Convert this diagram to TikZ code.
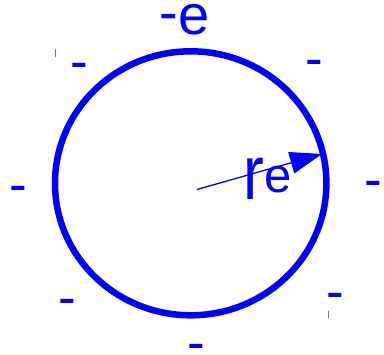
\documentclass[tikz,border=0pt]{standalone}
\usepackage{fontspec}
\setmainfont{Liberation Sans}
\usetikzlibrary{arrows.meta}
\definecolor{pureblue}{RGB}{0,0,255}
\tikzset{
  charge/.style={inner sep=0pt, outer sep=0pt, anchor=north, text=pureblue, font=\fontsize{53}{60}\selectfont},
  lbl/.style={inner sep=0pt, outer sep=0pt, anchor=base west, text=pureblue},
  tick/.style={draw=pureblue!60, line width=0.8pt}
}
\begin{document}
\begin{tikzpicture}[x=1pt,y=-1pt]
\useasboundingbox (0,0) rectangle (384,355);
% sphere
\draw[pureblue, line width=6.5pt] (190.7,183.3) ellipse [x radius=135.7pt, y radius=132pt];
% radius arrow
\coordinate (c) at (197,189.5);
\coordinate (t) at (322,154);
\draw[pureblue, line width=1.3pt, -{Triangle[length=32pt,width=22pt]}] (c) -- (t);
% labels
\node[lbl, font=\fontsize{56}{60}\selectfont] (q) at (159.8,34.3) {\raisebox{3pt}{-}e};
\node[lbl, font=\fontsize{62.5}{70}\selectfont] (r) at (243.6,200) {\scalebox{1}[1.23]{r}};
\node[lbl, font=\fontsize{49}{54}\selectfont] (e) at (264.5,193) {e};
% surrounding charges
\node[charge] (m1) at (79,63.5) {-};
\node[charge] (m2) at (314,60.8) {-};
\node[charge] (m3) at (18,186.8) {-};
\node[charge] (m4) at (373.5,181.8) {-};
\node[charge] (m5) at (67,299.8) {-};
\node[charge] (m6) at (335.3,293.5) {-};
\node[charge] (m7) at (196.7,344.8) {-};
% small ticks
\draw[tick] (55.3,49) -- (55.3,57);
\draw[tick] (328.7,311) -- (328.7,318);
\end{tikzpicture}
\end{document}
